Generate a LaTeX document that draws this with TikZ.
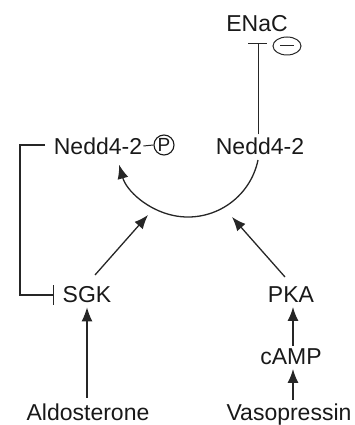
\documentclass[tikz,border=0pt]{standalone}
\usepackage{fontspec}
\setmainfont{Liberation Sans}
\usetikzlibrary{arrows.meta,shapes.geometric}
\begin{document}
\begin{tikzpicture}[x=1pt,y=1pt,
  lbl/.style={inner sep=0pt, font=\fontsize{23}{25}\selectfont, text=black!90},
  act/.style={draw=black!85, line width=1.3pt, -{Latex[length=14pt,width=11pt]}},
  plain/.style={draw=black!85, line width=1pt}]
\useasboundingbox (0,0) rectangle (354,425);
% nodes
\node[lbl] (enac) at (257,401) {ENaC};
\node[lbl] (nedp) at (98,279) {Nedd4-2};
\node[draw=black!90, line width=1.1pt, circle, minimum size=20pt, inner sep=0pt,
      font=\fontsize{19}{20}\selectfont, text=black!90] (P) at (164,280) {P};
\node[lbl] (ned) at (260,279) {Nedd4-2};
\node[lbl] (sgk) at (87,130) {SGK};
\node[lbl] (pka) at (291,130) {PKA};
\node[lbl] (camp) at (291,68) {cAMP};
\node[lbl, anchor=base] (aldo) at (88,4.5) {Aldosterone};
\node[lbl, anchor=base] (vaso) at (289,4.5) {Vasopressin};
\node[draw=black!85, line width=1pt, ellipse, minimum width=28pt, minimum height=18pt,
      inner sep=0pt] (minus) at (287,379) {};
\draw[plain] ([xshift=-7pt]minus.center) -- ([xshift=7pt]minus.center);
% P bond
\draw[plain] (nedp.east) ++(1pt,0) -- (P.west);
% ENaC inhibition
\coordinate (tbar) at (258,381);
\draw[plain] (ned.north -| tbar) ++(0,3pt) -- (tbar);
\draw[plain] (248,381) -- (267,381);
% feedback line
\coordinate (fbA) at (45,280);
\coordinate (fbB) at (20,280);
\coordinate (fbC) at (20,130);
\coordinate (fbD) at (53,130);
\draw[draw=black!85, line width=2pt] (fbA) -- (fbB) -- (fbC) -- (fbD);
\draw[plain] (53,120) -- (53,140);
% arc
\coordinate (arcS) at (258,265);
\draw[act] (arcS) arc[start angle=-11.7, end angle=-164.4, radius=71.5];
% arrows into arc
\coordinate (arcL) at (148,210);
\coordinate (arcR) at (232,208);
\draw[act] (95,150) -- (arcL);
\draw[act] (285,148) -- (arcR);
% vertical arrows
\draw[act] (87,27) -- ([yshift=-4pt]sgk.south);
\draw[act] (293,25) -- (293,56);
\draw[act] (camp.north -| 293,0) ++(0,3pt) -- (293,118);
\end{tikzpicture}
\end{document}
